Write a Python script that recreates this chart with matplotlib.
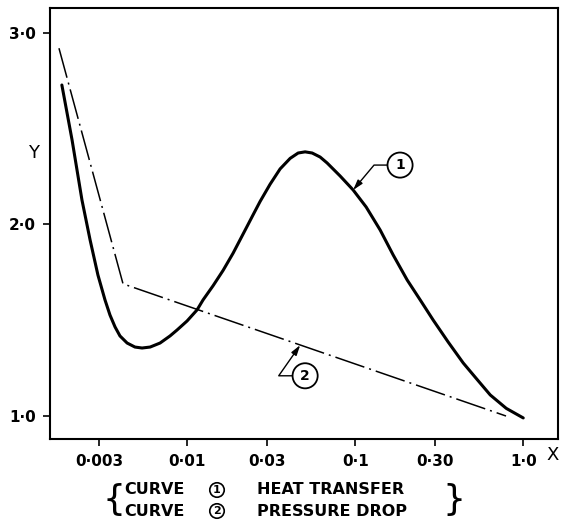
import matplotlib
matplotlib.use("Agg")
import matplotlib.pyplot as plt

# curve 1 : heat transfer
curve1_x = [0.00180, 0.00207, 0.00237, 0.00265, 0.00295, 0.00325, 0.00348, 0.00373,
            0.00399, 0.00440, 0.00490, 0.00540, 0.00603, 0.00691, 0.00792, 0.00872,
            0.0100, 0.01147, 0.01245, 0.01428, 0.01638, 0.01879, 0.02068, 0.02276,
            0.02470, 0.02720, 0.03119, 0.03578, 0.04105, 0.04580, 0.05039, 0.05550,
            0.06190, 0.06811, 0.08141, 0.09730, 0.1163, 0.1409, 0.1683, 0.2040,
            0.2438, 0.2912, 0.3578, 0.4394, 0.5325, 0.6363, 0.7925, 1.0]
curve1_y = [2.728, 2.441, 2.128, 1.919, 1.736, 1.606, 1.527, 1.465,
            1.418, 1.381, 1.360, 1.355, 1.360, 1.381, 1.418, 1.449,
            1.496, 1.554, 1.606, 1.680, 1.760, 1.850, 1.920, 1.990,
            2.050, 2.120, 2.210, 2.290, 2.345, 2.373, 2.379, 2.373,
            2.352, 2.321, 2.253, 2.180, 2.091, 1.971, 1.841, 1.710,
            1.606, 1.501, 1.386, 1.277, 1.190, 1.110, 1.040, 0.990]

# curve 2 : pressure drop
curve2_x = [0.00173, 0.00416, 0.79]
curve2_y = [2.92, 1.69, 1.0]

xticks = [0.003, 0.01, 0.03, 0.1, 0.30, 1.0]
xticklabels = ["0·003", "0·01", "0·03", "0·1", "0·30", "1·0"]
yticks = [1.0, 2.0, 3.0]
yticklabels = ["1·0", "2·0", "3·0"]

W, H = 562, 521
fig = plt.figure(figsize=(W / 100, H / 100), dpi=100)
ax = fig.add_axes([50 / W, 1 - 439 / H, 508 / W, 431 / H])

ax.plot(curve1_x, curve1_y, color="black", lw=2.2, solid_capstyle="round",
        solid_joinstyle="round")
ax.plot(curve2_x, curve2_y, color="black", lw=1.1, linestyle=(0, (20, 3.3, 1.3, 3.3)))

ax.set_xscale("log")
ax.set_xlim(0.00153, 1.61)
ax.set_ylim(0.88, 3.13)
ax.minorticks_off()
ax.set_xticks(xticks)
ax.set_xticklabels(xticklabels)
ax.set_yticks(yticks)
ax.set_yticklabels(yticklabels)
ax.tick_params(direction="out", length=5, width=1.2, labelsize=11)
ax.tick_params(axis="x", pad=6)
ax.tick_params(axis="y", pad=5)
for lab in ax.get_xticklabels() + ax.get_yticklabels():
    lab.set_fontweight("bold")
for sp in ax.spines.values():
    sp.set_linewidth(1.5)

# curve markers
arrow = dict(arrowstyle="-|>,head_length=0.6,head_width=0.18", color="black",
             lw=1.0, shrinkA=0, shrinkB=0)
circ = dict(boxstyle="circle,pad=0.4", fc="white", ec="black", lw=1.3)
ax.annotate("1", xy=(0.0973, 2.18), xytext=(0.185, 2.31), fontsize=10, fontweight="bold",
            ha="center", va="center", bbox=circ,
            arrowprops=dict(arrow, connectionstyle="angle,angleA=0,angleB=50,rad=0"))
ax.annotate("2", xy=(0.0471, 1.37), xytext=(0.0504, 1.21), fontsize=10, fontweight="bold",
            ha="center", va="center", bbox=circ,
            arrowprops=dict(arrow, connectionstyle="angle,angleA=0,angleB=55,rad=0"))

fig.text(34 / W, 1 - 153 / H, "Y", fontsize=13, ha="center", va="center")
fig.text(553 / W, 1 - 455 / H, "X", fontsize=13, ha="center", va="center")

# caption with braces
fs = 11.5
for yy, num, txt in [(490, "1", "HEAT TRANSFER"), (511, "2", "PRESSURE DROP")]:
    fig.text(124 / W, 1 - yy / H, "CURVE", fontsize=fs, fontweight="bold", va="center")
    fig.text(217 / W, 1 - yy / H, num, fontsize=8, fontweight="bold", ha="center",
             va="center", bbox=dict(boxstyle="circle,pad=0.2", fc="white", ec="black", lw=1.2))
    fig.text(257 / W, 1 - yy / H, txt, fontsize=fs, fontweight="bold", va="center")
fig.text(114 / W, 1 - 500 / H, "{", fontsize=26, ha="center", va="center")
fig.text(454 / W, 1 - 500 / H, "}", fontsize=26, ha="center", va="center")

fig.savefig("out.png", dpi=100)
